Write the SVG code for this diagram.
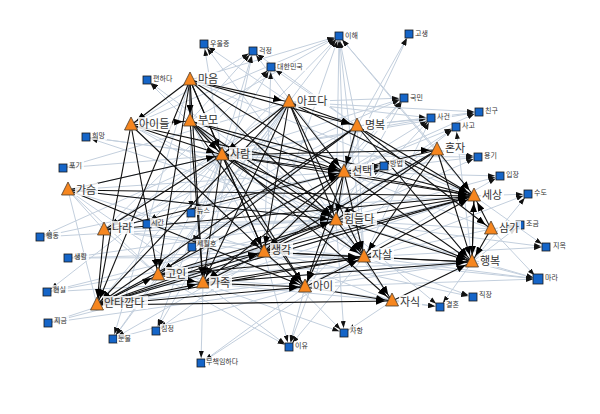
<svg xmlns="http://www.w3.org/2000/svg" width="600" height="414" viewBox="0 0 600 414">
<style>
.bg{fill:#fff}
.lt line{stroke:#c3cfdd;stroke-width:1;marker-end:url(#al)}
.lt2 line{stroke:#c3cfdd;stroke-width:1}
.dk line{stroke:#111;stroke-width:1.1;marker-end:url(#ab)}
.tri{fill:#f6861f;stroke:#4a3a2a;stroke-width:0.8}
.sq{fill:#1565c8;stroke:#1a1a1a;stroke-width:0.8}
.tb{fill:#fff;fill-opacity:0.85}
.sb{fill:#fff;fill-opacity:0.8}
.tl{font-family:"Noto Sans CJK KR","Noto Sans",sans-serif;font-size:11px;fill:#333}
.sl{font-family:"Noto Sans CJK KR","Noto Sans",sans-serif;font-size:7px;fill:#333}
</style>
<defs>
<marker id="ab" markerUnits="userSpaceOnUse" markerWidth="9" markerHeight="7" refX="16" refY="3.5" orient="auto"><path d="M0,0L9,3.5L0,7z" fill="#000"/></marker>
<marker id="al" markerUnits="userSpaceOnUse" markerWidth="7" markerHeight="5" refX="12" refY="2.5" orient="auto"><path d="M0,0L7,2.5L0,5z" fill="#111"/></marker>
</defs>
<rect class="bg" width="600" height="414"/>
<g id="connectors">
<g class="lt2">
<line x1="68" y1="190" x2="222" y2="155"/><line x1="68" y1="190" x2="344" y2="172"/><line x1="68" y1="190" x2="336" y2="220"/><line x1="68" y1="190" x2="264" y2="252"/><line x1="68" y1="190" x2="158" y2="275"/><line x1="68" y1="190" x2="104" y2="230"/><line x1="68" y1="190" x2="97" y2="305"/><line x1="68" y1="190" x2="203" y2="283"/>
<line x1="104" y1="230" x2="264" y2="252"/><line x1="104" y1="230" x2="364" y2="257"/><line x1="104" y1="230" x2="336" y2="220"/><line x1="104" y1="230" x2="158" y2="275"/>
<line x1="131" y1="125" x2="264" y2="252"/><line x1="131" y1="125" x2="336" y2="220"/><line x1="131" y1="125" x2="364" y2="257"/>
<line x1="190" y1="80" x2="474" y2="196"/><line x1="190" y1="80" x2="364" y2="257"/><line x1="190" y1="121" x2="364" y2="257"/><line x1="190" y1="121" x2="264" y2="252"/>
<line x1="357" y1="126" x2="472" y2="262"/><line x1="357" y1="126" x2="364" y2="257"/><line x1="357" y1="126" x2="336" y2="220"/>
<line x1="437" y1="150" x2="264" y2="252"/><line x1="437" y1="150" x2="305" y2="287"/><line x1="437" y1="150" x2="203" y2="283"/>
<line x1="474" y1="196" x2="158" y2="275"/><line x1="474" y1="196" x2="203" y2="283"/><line x1="474" y1="196" x2="97" y2="305"/>
<line x1="491" y1="229" x2="364" y2="257"/><line x1="491" y1="229" x2="336" y2="220"/><line x1="491" y1="229" x2="344" y2="172"/>
<line x1="472" y1="262" x2="158" y2="275"/><line x1="472" y1="262" x2="203" y2="283"/><line x1="472" y1="262" x2="97" y2="305"/><line x1="472" y1="262" x2="305" y2="287"/>
<line x1="392" y1="301" x2="203" y2="283"/><line x1="392" y1="301" x2="264" y2="252"/><line x1="392" y1="301" x2="336" y2="220"/>
<line x1="305" y1="287" x2="158" y2="275"/><line x1="289" y1="102" x2="158" y2="275"/><line x1="289" y1="102" x2="104" y2="230"/><line x1="222" y1="155" x2="158" y2="275"/><line x1="222" y1="155" x2="97" y2="305"/><line x1="344" y1="172" x2="158" y2="275"/><line x1="344" y1="172" x2="97" y2="305"/>
</g>
<g class="lt">
<line x1="190" y1="80" x2="339" y2="36"/><line x1="190" y1="121" x2="339" y2="36"/><line x1="222" y1="155" x2="339" y2="36"/><line x1="289" y1="102" x2="339" y2="36"/><line x1="357" y1="126" x2="339" y2="36"/><line x1="344" y1="172" x2="339" y2="36"/><line x1="336" y1="220" x2="339" y2="36"/><line x1="264" y1="252" x2="339" y2="36"/><line x1="364" y1="257" x2="339" y2="36"/><line x1="437" y1="150" x2="339" y2="36"/><line x1="131" y1="125" x2="339" y2="36"/><line x1="474" y1="196" x2="339" y2="36"/>
<line x1="357" y1="126" x2="409" y2="34"/><line x1="344" y1="172" x2="409" y2="34"/>
<line x1="222" y1="155" x2="204" y2="44"/><line x1="289" y1="102" x2="204" y2="44"/><line x1="336" y1="220" x2="204" y2="44"/>
<line x1="131" y1="125" x2="253" y2="51"/><line x1="190" y1="121" x2="253" y2="51"/><line x1="222" y1="155" x2="253" y2="51"/><line x1="344" y1="172" x2="253" y2="51"/><line x1="203" y1="283" x2="253" y2="51"/><line x1="357" y1="126" x2="253" y2="51"/>
<line x1="222" y1="155" x2="271" y2="67"/><line x1="104" y1="230" x2="271" y2="67"/><line x1="264" y1="252" x2="271" y2="67"/><line x1="357" y1="126" x2="271" y2="67"/>
<line x1="222" y1="155" x2="147" y2="80"/><line x1="336" y1="220" x2="147" y2="80"/>
<line x1="104" y1="230" x2="404" y2="98"/><line x1="222" y1="155" x2="404" y2="98"/><line x1="344" y1="172" x2="404" y2="98"/><line x1="336" y1="220" x2="404" y2="98"/><line x1="264" y1="252" x2="404" y2="98"/><line x1="289" y1="102" x2="404" y2="98"/>
<line x1="222" y1="155" x2="431" y2="118"/><line x1="344" y1="172" x2="431" y2="118"/><line x1="336" y1="220" x2="431" y2="118"/><line x1="364" y1="257" x2="431" y2="118"/><line x1="357" y1="126" x2="431" y2="118"/><line x1="289" y1="102" x2="431" y2="118"/>
<line x1="357" y1="126" x2="479" y2="112"/><line x1="222" y1="155" x2="479" y2="112"/><line x1="344" y1="172" x2="479" y2="112"/><line x1="289" y1="102" x2="479" y2="112"/>
<line x1="344" y1="172" x2="456" y2="127"/><line x1="336" y1="220" x2="456" y2="127"/><line x1="264" y1="252" x2="456" y2="127"/><line x1="472" y1="262" x2="456" y2="127"/>
<line x1="222" y1="155" x2="86" y2="137"/><line x1="344" y1="172" x2="86" y2="137"/><line x1="336" y1="220" x2="86" y2="137"/>
<line x1="222" y1="155" x2="63" y2="168"/><line x1="289" y1="102" x2="63" y2="168"/>
<line x1="344" y1="172" x2="478" y2="157"/><line x1="437" y1="150" x2="478" y2="157"/><line x1="336" y1="220" x2="478" y2="157"/><line x1="222" y1="155" x2="478" y2="157"/>
<line x1="344" y1="172" x2="384" y2="166"/><line x1="222" y1="155" x2="384" y2="166"/><line x1="264" y1="252" x2="384" y2="166"/>
<line x1="344" y1="172" x2="500" y2="176"/><line x1="305" y1="287" x2="500" y2="176"/><line x1="336" y1="220" x2="500" y2="176"/>
<line x1="474" y1="196" x2="528" y2="194"/><line x1="472" y1="262" x2="528" y2="194"/><line x1="364" y1="257" x2="528" y2="194"/>
<line x1="190" y1="80" x2="191" y2="213"/><line x1="289" y1="102" x2="191" y2="213"/><line x1="357" y1="126" x2="191" y2="213"/><line x1="474" y1="196" x2="191" y2="213"/>
<line x1="222" y1="155" x2="147" y2="224"/><line x1="344" y1="172" x2="147" y2="224"/><line x1="336" y1="220" x2="147" y2="224"/>
<line x1="491" y1="229" x2="520" y2="225"/><line x1="472" y1="262" x2="520" y2="225"/>
<line x1="336" y1="220" x2="40" y2="237"/><line x1="344" y1="172" x2="40" y2="237"/><line x1="222" y1="155" x2="40" y2="237"/>
<line x1="364" y1="257" x2="546" y2="247"/><line x1="474" y1="196" x2="546" y2="247"/><line x1="336" y1="220" x2="546" y2="247"/>
<line x1="289" y1="102" x2="192" y2="247"/><line x1="357" y1="126" x2="192" y2="247"/><line x1="222" y1="155" x2="192" y2="247"/>
<line x1="336" y1="220" x2="68" y2="258"/><line x1="264" y1="252" x2="68" y2="258"/><line x1="364" y1="257" x2="68" y2="258"/>
<line x1="364" y1="257" x2="538" y2="279"/><line x1="472" y1="262" x2="538" y2="279"/><line x1="264" y1="252" x2="538" y2="279"/><line x1="336" y1="220" x2="538" y2="279"/><line x1="491" y1="229" x2="538" y2="279"/><line x1="305" y1="287" x2="538" y2="279"/>
<line x1="222" y1="155" x2="47" y2="292"/><line x1="264" y1="252" x2="47" y2="292"/><line x1="336" y1="220" x2="47" y2="292"/><line x1="203" y1="283" x2="47" y2="292"/>
<line x1="364" y1="257" x2="473" y2="297"/><line x1="264" y1="252" x2="473" y2="297"/>
<line x1="392" y1="301" x2="440" y2="307"/><line x1="472" y1="262" x2="440" y2="307"/><line x1="336" y1="220" x2="440" y2="307"/><line x1="305" y1="287" x2="440" y2="307"/>
<line x1="264" y1="252" x2="48" y2="323"/><line x1="305" y1="287" x2="48" y2="323"/><line x1="203" y1="283" x2="48" y2="323"/>
<line x1="289" y1="102" x2="156" y2="331"/><line x1="222" y1="155" x2="156" y2="331"/><line x1="264" y1="252" x2="156" y2="331"/>
<line x1="203" y1="283" x2="344" y2="333"/><line x1="264" y1="252" x2="344" y2="333"/><line x1="336" y1="220" x2="344" y2="333"/><line x1="392" y1="301" x2="344" y2="333"/>
<line x1="289" y1="102" x2="113" y2="339"/><line x1="190" y1="80" x2="113" y2="339"/><line x1="158" y1="275" x2="113" y2="339"/><line x1="264" y1="252" x2="113" y2="339"/><line x1="305" y1="287" x2="113" y2="339"/>
<line x1="305" y1="287" x2="289" y2="347"/><line x1="264" y1="252" x2="289" y2="347"/><line x1="203" y1="283" x2="289" y2="347"/><line x1="364" y1="257" x2="289" y2="347"/><line x1="336" y1="220" x2="289" y2="347"/><line x1="158" y1="275" x2="289" y2="347"/>
<line x1="305" y1="287" x2="201" y2="363"/><line x1="364" y1="257" x2="201" y2="363"/><line x1="203" y1="283" x2="201" y2="363"/>
</g>
<g class="dk">
<line x1="190" y1="80" x2="190" y2="121"/><line x1="190" y1="80" x2="222" y2="155"/><line x1="190" y1="80" x2="289" y2="102"/><line x1="190" y1="80" x2="357" y2="126"/><line x1="190" y1="80" x2="344" y2="172"/><line x1="190" y1="80" x2="336" y2="220"/><line x1="190" y1="80" x2="264" y2="252"/><line x1="190" y1="80" x2="203" y2="283"/><line x1="190" y1="80" x2="158" y2="275"/><line x1="190" y1="80" x2="97" y2="305"/><line x1="190" y1="80" x2="131" y2="125"/>
<line x1="289" y1="102" x2="357" y2="126"/><line x1="289" y1="102" x2="222" y2="155"/><line x1="289" y1="102" x2="344" y2="172"/><line x1="289" y1="102" x2="364" y2="257"/><line x1="289" y1="102" x2="264" y2="252"/><line x1="289" y1="102" x2="203" y2="283"/><line x1="289" y1="102" x2="97" y2="305"/><line x1="289" y1="102" x2="474" y2="196"/><line x1="289" y1="102" x2="336" y2="220"/>
<line x1="131" y1="125" x2="222" y2="155"/><line x1="131" y1="125" x2="190" y2="121"/><line x1="131" y1="125" x2="264" y2="252"/><line x1="131" y1="125" x2="344" y2="172"/><line x1="131" y1="125" x2="97" y2="305"/><line x1="131" y1="125" x2="158" y2="275"/>
<line x1="190" y1="121" x2="222" y2="155"/><line x1="190" y1="121" x2="344" y2="172"/><line x1="190" y1="121" x2="392" y2="301"/><line x1="190" y1="121" x2="305" y2="287"/><line x1="190" y1="121" x2="336" y2="220"/><line x1="190" y1="121" x2="203" y2="283"/><line x1="190" y1="121" x2="474" y2="196"/>
<line x1="357" y1="126" x2="344" y2="172"/><line x1="357" y1="126" x2="158" y2="275"/><line x1="357" y1="126" x2="491" y2="229"/><line x1="357" y1="126" x2="97" y2="305"/><line x1="357" y1="126" x2="474" y2="196"/><line x1="357" y1="126" x2="472" y2="262"/>
<line x1="222" y1="155" x2="344" y2="172"/><line x1="222" y1="155" x2="336" y2="220"/><line x1="222" y1="155" x2="264" y2="252"/><line x1="222" y1="155" x2="474" y2="196"/><line x1="222" y1="155" x2="364" y2="257"/><line x1="222" y1="155" x2="472" y2="262"/><line x1="222" y1="155" x2="437" y2="150"/><line x1="222" y1="155" x2="305" y2="287"/><line x1="222" y1="155" x2="104" y2="230"/><line x1="222" y1="155" x2="203" y2="283"/>
<line x1="437" y1="150" x2="344" y2="172"/><line x1="437" y1="150" x2="336" y2="220"/><line x1="437" y1="150" x2="474" y2="196"/><line x1="437" y1="150" x2="364" y2="257"/><line x1="437" y1="150" x2="472" y2="262"/><line x1="437" y1="150" x2="264" y2="252"/>
<line x1="344" y1="172" x2="336" y2="220"/><line x1="344" y1="172" x2="364" y2="257"/><line x1="344" y1="172" x2="474" y2="196"/><line x1="344" y1="172" x2="472" y2="262"/><line x1="344" y1="172" x2="264" y2="252"/><line x1="344" y1="172" x2="305" y2="287"/><line x1="344" y1="172" x2="203" y2="283"/>
<line x1="68" y1="190" x2="222" y2="155"/><line x1="68" y1="190" x2="336" y2="220"/><line x1="68" y1="190" x2="474" y2="196"/><line x1="68" y1="190" x2="305" y2="287"/>
<line x1="474" y1="196" x2="472" y2="262"/><line x1="472" y1="262" x2="474" y2="196"/>
<line x1="336" y1="220" x2="474" y2="196"/><line x1="336" y1="220" x2="364" y2="257"/><line x1="336" y1="220" x2="472" y2="262"/><line x1="336" y1="220" x2="305" y2="287"/><line x1="336" y1="220" x2="264" y2="252"/>
<line x1="104" y1="230" x2="344" y2="172"/><line x1="104" y1="230" x2="474" y2="196"/><line x1="104" y1="230" x2="97" y2="305"/>
<line x1="491" y1="229" x2="472" y2="262"/><line x1="491" y1="229" x2="474" y2="196"/>
<line x1="264" y1="252" x2="364" y2="257"/><line x1="264" y1="252" x2="474" y2="196"/><line x1="264" y1="252" x2="472" y2="262"/><line x1="264" y1="252" x2="305" y2="287"/><line x1="264" y1="252" x2="203" y2="283"/>
<line x1="364" y1="257" x2="472" y2="262"/><line x1="364" y1="257" x2="392" y2="301"/><line x1="364" y1="257" x2="474" y2="196"/>
<line x1="158" y1="275" x2="264" y2="252"/><line x1="158" y1="275" x2="203" y2="283"/><line x1="158" y1="275" x2="364" y2="257"/><line x1="158" y1="275" x2="336" y2="220"/>
<line x1="203" y1="283" x2="305" y2="287"/><line x1="203" y1="283" x2="364" y2="257"/><line x1="203" y1="283" x2="472" y2="262"/>
<line x1="305" y1="287" x2="392" y2="301"/><line x1="305" y1="287" x2="364" y2="257"/>
<line x1="97" y1="305" x2="158" y2="275"/><line x1="97" y1="305" x2="203" y2="283"/><line x1="97" y1="305" x2="305" y2="287"/><line x1="97" y1="305" x2="264" y2="252"/><line x1="97" y1="305" x2="392" y2="301"/><line x1="97" y1="305" x2="364" y2="257"/><line x1="97" y1="305" x2="336" y2="220"/><line x1="97" y1="305" x2="344" y2="172"/><line x1="97" y1="305" x2="474" y2="196"/>
<line x1="392" y1="301" x2="472" y2="262"/>
</g>
</g>
<g id="nodes">
<g id="n-ihae"><rect class="sq" x="335" y="32" width="8" height="8"/><rect class="sb" x="344" y="31" width="16" height="9"/><text class="sl" x="345" y="38">이해</text></g>
<g id="n-gosaeng"><rect class="sq" x="405" y="30" width="8" height="8"/><rect class="sb" x="414" y="29" width="16" height="9"/><text class="sl" x="415" y="36">고생</text></g>
<g id="n-uuljeung"><rect class="sq" x="200" y="40" width="8" height="8"/><rect class="sb" x="209" y="39" width="23" height="9"/><text class="sl" x="210" y="46">우울증</text></g>
<g id="n-geokjeong"><rect class="sq" x="249" y="47" width="8" height="8"/><rect class="sb" x="258" y="46" width="16" height="9"/><text class="sl" x="259" y="53">걱정</text></g>
<g id="n-daehanminguk"><rect class="sq" x="267" y="63" width="8" height="8"/><rect class="sb" x="276" y="62" width="30" height="9"/><text class="sl" x="277" y="69">대한민국</text></g>
<g id="n-pyeonhada"><rect class="sq" x="143" y="76" width="8" height="8"/><rect class="sb" x="152" y="74" width="23" height="9"/><text class="sl" x="153" y="81">편하다</text></g>
<g id="n-gukmin"><rect class="sq" x="400" y="94" width="8" height="8"/><rect class="sb" x="409" y="93" width="16" height="9"/><text class="sl" x="410" y="100">국민</text></g>
<g id="n-sageon"><rect class="sq" x="427" y="114" width="8" height="8"/><rect class="sb" x="436" y="112" width="16" height="9"/><text class="sl" x="437" y="119">사건</text></g>
<g id="n-chingu"><rect class="sq" x="475" y="108" width="8" height="8"/><rect class="sb" x="484" y="106" width="16" height="9"/><text class="sl" x="485" y="113">친구</text></g>
<g id="n-sago"><rect class="sq" x="452" y="123" width="8" height="8"/><rect class="sb" x="461" y="121" width="16" height="9"/><text class="sl" x="462" y="128">사고</text></g>
<g id="n-huimang"><rect class="sq" x="82" y="133" width="8" height="8"/><rect class="sb" x="91" y="131" width="16" height="9"/><text class="sl" x="92" y="138">희망</text></g>
<g id="n-pogi"><rect class="sq" x="59" y="164" width="8" height="8"/><rect class="sb" x="68" y="161" width="16" height="9"/><text class="sl" x="69" y="168">포기</text></g>
<g id="n-yonggi"><rect class="sq" x="474" y="153" width="8" height="8"/><rect class="sb" x="483" y="151" width="16" height="9"/><text class="sl" x="484" y="158">용기</text></g>
<g id="n-bangbeop"><rect class="sq" x="380" y="162" width="8" height="8"/><rect class="sb" x="389" y="159" width="16" height="9"/><text class="sl" x="390" y="166">방법</text></g>
<g id="n-ipjang"><rect class="sq" x="496" y="172" width="8" height="8"/><rect class="sb" x="505" y="170" width="16" height="9"/><text class="sl" x="506" y="177">입장</text></g>
<g id="n-sudo"><rect class="sq" x="524" y="190" width="8" height="8"/><rect class="sb" x="533" y="188" width="16" height="9"/><text class="sl" x="534" y="195">수도</text></g>
<g id="n-nyuseu"><rect class="sq" x="187" y="209" width="8" height="8"/><rect class="sb" x="196" y="206" width="16" height="9"/><text class="sl" x="197" y="213">뉴스</text></g>
<g id="n-sigan"><rect class="sq" x="143" y="220" width="8" height="8"/><rect class="sb" x="150" y="218" width="16" height="9"/><text class="sl" x="151" y="225">시간</text></g>
<g id="n-jogeum"><rect class="sq" x="516" y="221" width="8" height="8"/><rect class="sb" x="525" y="219" width="16" height="9"/><text class="sl" x="526" y="226">조금</text></g>
<g id="n-haengdong"><rect class="sq" x="36" y="233" width="8" height="8"/><rect class="sb" x="45" y="231" width="16" height="9"/><text class="sl" x="46" y="238">행동</text></g>
<g id="n-jiok"><rect class="sq" x="542" y="243" width="8" height="8"/><rect class="sb" x="552" y="241" width="16" height="9"/><text class="sl" x="553" y="248">지옥</text></g>
<g id="n-sewolho"><rect class="sq" x="188" y="243" width="8" height="8"/><rect class="sb" x="196" y="239" width="23" height="9"/><text class="sl" x="197" y="246">세월호</text></g>
<g id="n-saenghwal"><rect class="sq" x="64" y="254" width="8" height="8"/><rect class="sb" x="73" y="252" width="16" height="9"/><text class="sl" x="74" y="259">생활</text></g>
<g id="n-mara"><rect class="sq" x="533" y="274" width="10" height="10"/><rect class="sb" x="544" y="273" width="16" height="9"/><text class="sl" x="545" y="280">마라</text></g>
<g id="n-hyeonsil"><rect class="sq" x="43" y="288" width="8" height="8"/><rect class="sb" x="52" y="285" width="16" height="9"/><text class="sl" x="53" y="292">현실</text></g>
<g id="n-jikjang"><rect class="sq" x="469" y="293" width="8" height="8"/><rect class="sb" x="478" y="290" width="16" height="9"/><text class="sl" x="479" y="297">직장</text></g>
<g id="n-gyeolhon"><rect class="sq" x="436" y="303" width="8" height="8"/><rect class="sb" x="445" y="300" width="16" height="9"/><text class="sl" x="446" y="307">결혼</text></g>
<g id="n-jigeum"><rect class="sq" x="44" y="319" width="8" height="8"/><rect class="sb" x="53" y="316" width="16" height="9"/><text class="sl" x="54" y="323">지금</text></g>
<g id="n-simjeong"><rect class="sq" x="152" y="327" width="8" height="8"/><rect class="sb" x="160" y="324" width="16" height="9"/><text class="sl" x="161" y="331">심정</text></g>
<g id="n-sahang"><rect class="sq" x="340" y="329" width="8" height="8"/><rect class="sb" x="349" y="326" width="16" height="9"/><text class="sl" x="350" y="333">사항</text></g>
<g id="n-nunmul"><rect class="sq" x="109" y="335" width="8" height="8"/><rect class="sb" x="117" y="334" width="16" height="9"/><text class="sl" x="118" y="341">눈물</text></g>
<g id="n-iyu"><rect class="sq" x="285" y="343" width="8" height="8"/><rect class="sb" x="294" y="341" width="16" height="9"/><text class="sl" x="295" y="348">이유</text></g>
<g id="n-muchaegim"><rect class="sq" x="197" y="359" width="8" height="8"/><rect class="sb" x="205" y="357" width="37" height="9"/><text class="sl" x="206" y="364">무책임하다</text></g>

<g id="n-maeum"><polygon class="tri" points="190,72 183.5,85 196.5,85"/><rect class="tb" x="197" y="72" width="23" height="13"/><text class="tl" x="198" y="83">마음</text></g>
<g id="n-apeuda"><polygon class="tri" points="289,94 282.5,107 295.5,107"/><rect class="tb" x="296" y="94" width="34" height="13"/><text class="tl" x="297" y="105">아프다</text></g>
<g id="n-aideul"><polygon class="tri" points="131,117 124.5,130 137.5,130"/><rect class="tb" x="138" y="117" width="34" height="13"/><text class="tl" x="139" y="128">아이들</text></g>
<g id="n-bumo"><polygon class="tri" points="190,113 183.5,126 196.5,126"/><rect class="tb" x="197" y="113" width="23" height="13"/><text class="tl" x="198" y="124">부모</text></g>
<g id="n-myeongbok"><polygon class="tri" points="357,118 350.5,131 363.5,131"/><rect class="tb" x="364" y="118" width="23" height="13"/><text class="tl" x="365" y="129">명복</text></g>
<g id="n-saram"><polygon class="tri" points="222,147 215.5,160 228.5,160"/><rect class="tb" x="229" y="147" width="23" height="13"/><text class="tl" x="230" y="158">사람</text></g>
<g id="n-honja"><polygon class="tri" points="437,142 430.5,155 443.5,155"/><rect class="tb" x="444" y="141" width="23" height="13"/><text class="tl" x="445" y="152">혼자</text></g>
<g id="n-seontaek"><polygon class="tri" points="344,164 337.5,177 350.5,177"/><rect class="tb" x="351" y="164" width="23" height="13"/><text class="tl" x="352" y="175">선택</text></g>
<g id="n-gaseum"><polygon class="tri" points="68,182 61.5,195 74.5,195"/><rect class="tb" x="75" y="183" width="23" height="13"/><text class="tl" x="76" y="194">가슴</text></g>
<g id="n-sesang"><polygon class="tri" points="474,188 467.5,201 480.5,201"/><rect class="tb" x="481" y="188" width="23" height="13"/><text class="tl" x="482" y="199">세상</text></g>
<g id="n-himdeulda"><polygon class="tri" points="336,212 329.5,225 342.5,225"/><rect class="tb" x="343" y="212" width="34" height="13"/><text class="tl" x="344" y="223">힘들다</text></g>
<g id="n-nara"><polygon class="tri" points="104,222 97.5,235 110.5,235"/><rect class="tb" x="111" y="221" width="23" height="13"/><text class="tl" x="112" y="232">나라</text></g>
<g id="n-samga"><polygon class="tri" points="491,221 484.5,234 497.5,234"/><rect class="tb" x="498" y="221" width="23" height="13"/><text class="tl" x="499" y="232">삼가</text></g>
<g id="n-saenggak"><polygon class="tri" points="264,244 257.5,257 270.5,257"/><rect class="tb" x="270" y="243" width="23" height="13"/><text class="tl" x="271" y="254">생각</text></g>
<g id="n-jasal"><polygon class="tri" points="364,249 357.5,262 370.5,262"/><rect class="tb" x="371" y="248" width="23" height="13"/><text class="tl" x="372" y="259">자살</text></g>
<g id="n-haengbok"><polygon class="tri" points="472,254 465.5,267 478.5,267"/><rect class="tb" x="479" y="254" width="23" height="13"/><text class="tl" x="480" y="265">행복</text></g>
<g id="n-goin"><polygon class="tri" points="158,267 151.5,280 164.5,280"/><rect class="tb" x="165" y="267" width="23" height="13"/><text class="tl" x="166" y="278">고인</text></g>
<g id="n-gajok"><polygon class="tri" points="203,275 196.5,288 209.5,288"/><rect class="tb" x="209" y="276" width="23" height="13"/><text class="tl" x="210" y="287">가족</text></g>
<g id="n-ai"><polygon class="tri" points="305,279 298.5,292 311.5,292"/><rect class="tb" x="312" y="279" width="23" height="13"/><text class="tl" x="313" y="290">아이</text></g>
<g id="n-antakkapda"><polygon class="tri" points="97,297 90.5,310 103.5,310"/><rect class="tb" x="103" y="296" width="45" height="13"/><text class="tl" x="104" y="307">안타깝다</text></g>
<g id="n-jasik"><polygon class="tri" points="392,293 385.5,306 398.5,306"/><rect class="tb" x="399" y="295" width="23" height="13"/><text class="tl" x="400" y="306">자식</text></g>
</g>
</svg>
